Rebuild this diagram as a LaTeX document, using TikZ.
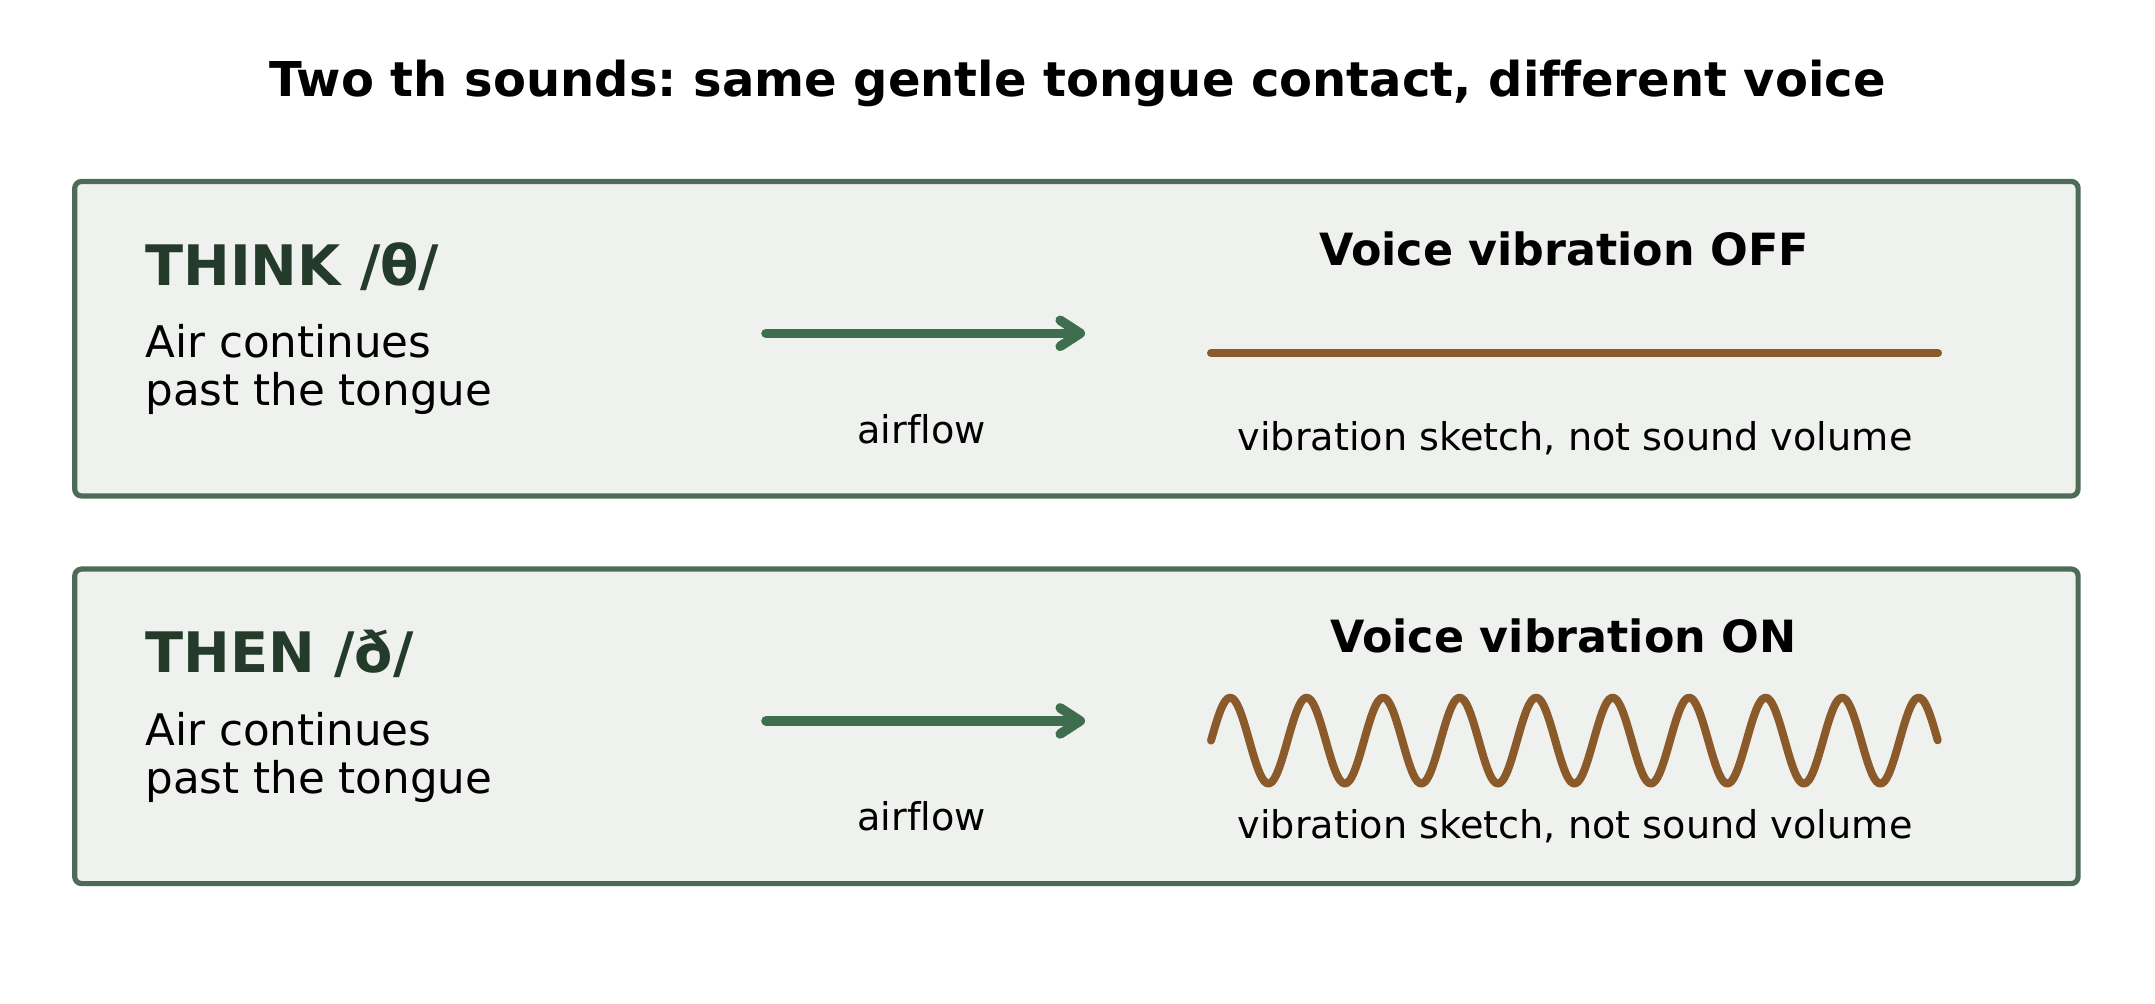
\documentclass[tikz,border=0pt]{standalone}
\usepackage{fontspec}
\setmainfont[Ligatures=NoCommon]{DejaVu Sans}
\frenchspacing
\usetikzlibrary{arrows.meta}
\definecolor{panelfill}{HTML}{EFF1EE}
\definecolor{panelline}{HTML}{4D6C57}
\definecolor{headgreen}{HTML}{243A2B}
\definecolor{airgreen}{HTML}{3F6E4F}
\definecolor{voicebrown}{HTML}{8B5A2B}
\tikzset{
  panel/.style={draw=panelline, fill=panelfill, line width=2.6pt, rounded corners=3.5pt,
    minimum width=1001.7pt, minimum height=157.3pt, inner sep=0pt},
  sound/.style={anchor=base west, inner sep=0pt, text=headgreen, font=\bfseries\fontsize{27.9}{32}\selectfont},
  explain/.style={anchor=base west, inner sep=0pt, align=left, font=\fontsize{21.8}{24}\selectfont},
  voicehead/.style={anchor=base, inner sep=0pt, font=\bfseries\fontsize{22.2}{26}\selectfont},
  smallnote/.style={anchor=base, inner sep=0pt, font=\fontsize{19.1}{22}\selectfont},
  airflow/.style={draw=airgreen, line width=4.8pt, line cap=round, line join=round,
    -{Straight Barb[length=10pt, width=13pt, line cap=round, line join=round]}},
  vibe/.style={draw=voicebrown, line width=4pt, line cap=round, line join=round}
}
\begin{document}
\begin{tikzpicture}[x=0.5pt,y=-0.5pt]
\useasboundingbox (0,0) rectangle (2155,1003);
    \node (title) at (1077.5,96.7) [anchor=base, inner sep=0pt, font=\bfseries\fontsize{24}{28}\selectfont] {Two th sounds: same gentle tongue contact, different voice};
    % top panel: /θ/
    \node (thinkbox) at (1076.4,338.7) [panel] {};
    \node (think) at (145,285) [sound] {THINK /θ/};
    \node (thinktxt) at (145,405.7) [explain] {Air continues\\past the tongue};
    \coordinate (thinkair1) at (766,333.3);
    \coordinate (thinkair2) at (1085,333.3);
    \node (thinkflow) at (921.7,443.3) [smallnote] {airflow};
    \node (offhead) at (1564,265) [voicehead] {Voice vibration OFF};
    \coordinate (off1) at (1211,353);
    \coordinate (off2) at (1938,353);
    \node (offnote) at (1575,450.8) [smallnote] {vibration sketch, not sound volume};
    % bottom panel: /ð/
    \node (thenbox) at (1076.4,726.3) [panel] {};
    \node (then) at (145,672.6) [sound] {THEN /ð/};
    \node (thentxt) at (145,793.3) [explain] {Air continues\\past the tongue};
    \coordinate (thenair1) at (766,720.9);
    \coordinate (thenair2) at (1085,720.9);
    \node (thenflow) at (921.7,830.9) [smallnote] {airflow};
    \node (onhead) at (1563.4,652.6) [voicehead] {Voice vibration ON};
    \node (onnote) at (1575,838.4) [smallnote] {vibration sketch, not sound volume};
    \draw[airflow] (thinkair1) -- (thinkair2);
    \draw[airflow] (thenair1) -- (thenair2);
    \draw[vibe] (off1) -- (off2);
    \draw[vibe] plot[domain=0:9.5, samples=300, smooth] ({1211+76.5*\x},{740.6-43*sin(360*\x)});
\end{tikzpicture}
\end{document}
